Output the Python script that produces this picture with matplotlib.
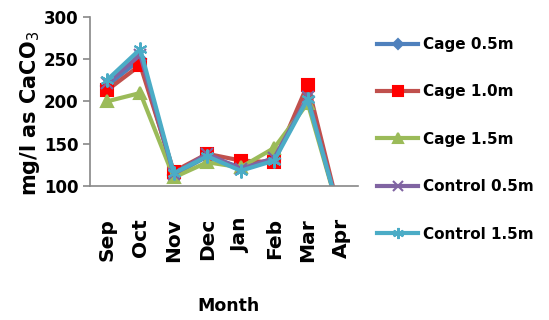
import matplotlib
matplotlib.use("Agg")
import matplotlib.pyplot as plt
import numpy as np

months = ["Sep", "Oct", "Nov", "Dec", "Jan", "Feb", "Mar", "Apr"]
cage_05 = [218, 250, 113, 135, 122, 132, 205, 60]
cage_10 = [213, 243, 117, 138, 130, 128, 220, 60]
cage_15 = [200, 210, 110, 128, 122, 145, 198, 60]
control_05 = [222, 255, 114, 138, 120, 133, 205, 60]
control_15 = [225, 262, 115, 135, 118, 130, 203, 60]

series = [
    ("Cage 0.5m", cage_05, "#4F81BD", "#4F81BD", "D", 6),
    ("Cage 1.0m", cage_10, "#C0504D", "#FF0000", "s", 9),
    ("Cage 1.5m", cage_15, "#9BBB59", "#9BBB59", "^", 9),
    ("Control 0.5m", control_05, "#8064A2", "#8064A2", "x", 9),
    ("Control 1.5m", control_15, "#4BACC6", "#4BACC6", (6, 2, 0), 10),
]

fig = plt.figure(figsize=(5.49, 3.20), dpi=100)
ax = fig.add_axes([0.164, 0.419, 0.488, 0.528])
x = np.arange(len(months))
for name, vals, lc, mc, m, ms in series:
    ax.plot(x, vals, color=lc, lw=3, marker=m, markersize=ms,
            markerfacecolor=mc, markeredgecolor=mc, markeredgewidth=1.5, label=name)

ax.set_xlim(-0.5, len(months) - 0.5)
ax.set_ylim(100, 300)
ax.set_yticks([100, 150, 200, 250, 300])
ax.set_xticks(x)
ax.set_xticklabels(months, rotation=90, fontsize=14.5, fontweight="bold")
for lab in ax.get_yticklabels():
    lab.set_fontsize(12)
    lab.set_fontweight("bold")
for s in ["top", "right"]:
    ax.spines[s].set_visible(False)
for s in ["left", "bottom"]:
    ax.spines[s].set_color("#888888")
    ax.spines[s].set_linewidth(1.2)
ax.tick_params(axis="y", length=5, color="#888888", width=1.2)
ax.tick_params(axis="x", length=0, pad=23)
ax.set_ylabel("mg/l as CaCO$_3$", fontsize=15, fontweight="bold")
ax.yaxis.set_label_coords(-0.18, 0.43)
ax.set_xlabel("Month", fontsize=12.5, fontweight="bold")
ax.xaxis.set_label_coords(0.515, -0.655)

leg = fig.legend(loc="upper left", bbox_to_anchor=(377 / 549, 1 - 37 / 320), frameon=False,
                 prop={"family": "DejaVu Sans", "weight": "bold", "size": 11},
                 handlelength=2.7, labelspacing=2.12, handletextpad=0.3,
                 borderpad=0, borderaxespad=0, markerscale=0.8)

fig.savefig("out.png", dpi=100)
